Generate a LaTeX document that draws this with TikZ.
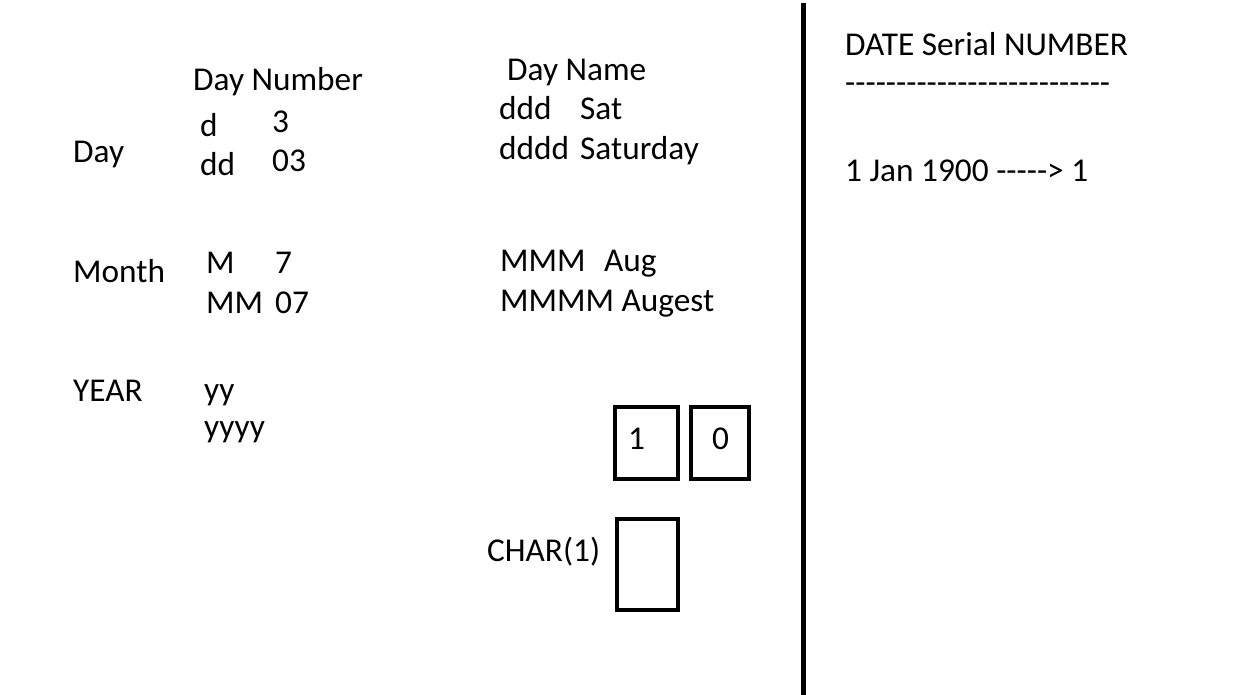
\documentclass[tikz,border=0pt]{standalone}
\usepackage{fontspec}
\setmainfont{Carlito}[Ligatures=TeXOff]
\usetikzlibrary{positioning}

\begin{document}
\begin{tikzpicture}[x=1pt, y=-1pt,
    txt/.style={anchor=base west, inner sep=0pt, font=\fontsize{33.3}{40}\selectfont},
    cell/.style={draw, line width=4pt, inner sep=0pt}]
    \useasboundingbox (0,0) rectangle (1242,695);
    % day number / day name
    \node[txt] (dnum) at (193,91) {Day Number};
    \node[txt] (day) at (73,163) {Day};
    \foreach \y/\fmt/\val [count=\i] in {137/d/3, 176/dd/03} {
      \node[txt] (df\i) at (200,\y) {\fmt};
      \node[txt] (dv\i) at (272,\y-4) {\val};
    }
    \node[txt] (dname) at (507,81) {Day Name};
    \node[txt] (nf1) at (499,120) {ddd};
    \node[txt] (nv1) at (580,120) {Sat};
    \node[txt] (nf2) at (499,160) {dddd};
    \node[txt] (nv2) at (580,160) {Saturday};
    % month
    \node[txt] (month) at (73,282) {Month};
    \node[txt] (mf1) at (206,273) {M};
    \node[txt] (mv1) at (275,273) {7};
    \node[txt] (mf2) at (206,313) {MM};
    \node[txt] (mv2) at (275,313) {07};
    \node[txt] (mn1) at (500,271) {MMM};
    \node[txt] (mnv1) at (604,271) {Aug};
    \node[txt] (mn2) at (500,311) {MMMM Augest};
    % year
    \node[txt] (year) at (73,401) {YEAR};
    \node[txt] (yf1) at (204,400) {yy};
    \node[txt] (yf2) at (204,437) {yyyy};
    % boxes
    \node[cell, minimum width=63pt, minimum height=72pt] (box1) at (646.5,443) {};
    \node[cell, minimum width=58pt, minimum height=72pt] (box2) at (720,443) {};
    \node[txt] (one) at (628,449) {1};
    \node[txt] (zero) at (712,449) {0};
    \node[txt] (char) at (487,561) {CHAR(1)};
    \node[cell, minimum width=61pt, minimum height=91pt] (box3) at (647.5,564.5) {};
    % divider
    \coordinate (top) at (803.5,3);
    \coordinate (bot) at (803.5,695);
    \draw[line width=4.5pt] (top) -- (bot);
    % serial number
    \node[txt] (serial) at (845,56) {DATE Serial NUMBER};
    \node[txt] (dashes) at (845,94) {--------------------------};
    \node[txt] (jan) at (845,182) {1 Jan 1900 -----> 1};
\end{tikzpicture}
\end{document}
